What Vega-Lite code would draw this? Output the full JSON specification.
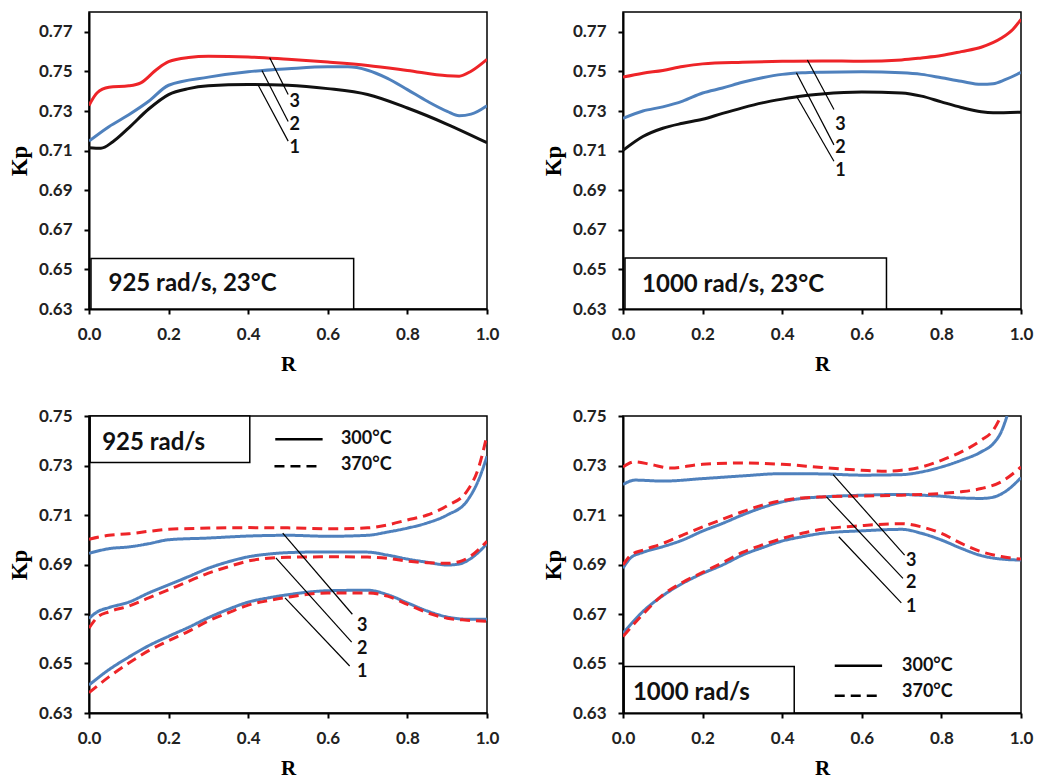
{
"$schema": "https://vega.github.io/schema/vega-lite/v6.json",
"padding": {"left": 7, "top": 11, "right": 5, "bottom": 5},
"background": "white",
"config": {
  "view": {"stroke": "black", "strokeWidth": 1.5},
  "axis": {"domainColor": "black", "domainWidth": 2, "tickColor": "black", "tickWidth": 2, "tickSize": 5, "grid": false, "labelFont": "Lato", "labelFontWeight": "bold", "labelFontSize": 17, "labelColor": "#222222", "titleFont": "Liberation Serif", "titleFontSize": 21, "titleFontWeight": "bold", "titleColor": "black"},
  "axisX": {"labelPadding": 12, "titlePadding": 11, "labelFlush": false},
  "axisY": {"labelPadding": 12, "titlePadding": 7, "titleFontSize": 23},
  "text": {"font": "Lato", "fontWeight": "bold", "color": "#111111"}
},
"resolve": {"scale": {"x": "independent", "y": "independent", "color": "independent", "strokeDash": "independent"}},
"columns": 2,
"spacing": {"row": 31, "column": 41},
"datasets": {
"cur": [
{"p":1,"s":"1","t":"23°C","R":0,"Kp":0.7115},{"p":1,"s":"1","t":"23°C","R":0.03,"Kp":0.7112},{"p":1,"s":"1","t":"23°C","R":0.06,"Kp":0.7145},{"p":1,"s":"1","t":"23°C","R":0.1,"Kp":0.7215},{"p":1,"s":"1","t":"23°C","R":0.15,"Kp":0.731},{"p":1,"s":"1","t":"23°C","R":0.2,"Kp":0.7383},{"p":1,"s":"1","t":"23°C","R":0.25,"Kp":0.7413},{"p":1,"s":"1","t":"23°C","R":0.3,"Kp":0.7427},{"p":1,"s":"1","t":"23°C","R":0.4,"Kp":0.7434},{"p":1,"s":"1","t":"23°C","R":0.5,"Kp":0.743},{"p":1,"s":"1","t":"23°C","R":0.6,"Kp":0.7413},{"p":1,"s":"1","t":"23°C","R":0.7,"Kp":0.7383},{"p":1,"s":"1","t":"23°C","R":0.8,"Kp":0.7315},{"p":1,"s":"1","t":"23°C","R":0.9,"Kp":0.7233},{"p":1,"s":"1","t":"23°C","R":1,"Kp":0.714},
{"p":1,"s":"2","t":"23°C","R":0,"Kp":0.7148},{"p":1,"s":"2","t":"23°C","R":0.05,"Kp":0.7221},{"p":1,"s":"2","t":"23°C","R":0.1,"Kp":0.7281},{"p":1,"s":"2","t":"23°C","R":0.15,"Kp":0.7349},{"p":1,"s":"2","t":"23°C","R":0.2,"Kp":0.743},{"p":1,"s":"2","t":"23°C","R":0.3,"Kp":0.7471},{"p":1,"s":"2","t":"23°C","R":0.4,"Kp":0.7498},{"p":1,"s":"2","t":"23°C","R":0.5,"Kp":0.7513},{"p":1,"s":"2","t":"23°C","R":0.6,"Kp":0.7523},{"p":1,"s":"2","t":"23°C","R":0.65,"Kp":0.7523},{"p":1,"s":"2","t":"23°C","R":0.7,"Kp":0.7506},{"p":1,"s":"2","t":"23°C","R":0.75,"Kp":0.7465},{"p":1,"s":"2","t":"23°C","R":0.8,"Kp":0.7408},{"p":1,"s":"2","t":"23°C","R":0.85,"Kp":0.7349},{"p":1,"s":"2","t":"23°C","R":0.9,"Kp":0.7298},{"p":1,"s":"2","t":"23°C","R":0.93,"Kp":0.7276},{"p":1,"s":"2","t":"23°C","R":0.96,"Kp":0.7284},{"p":1,"s":"2","t":"23°C","R":1,"Kp":0.7327},
{"p":1,"s":"3","t":"23°C","R":0,"Kp":0.7328},{"p":1,"s":"3","t":"23°C","R":0.02,"Kp":0.7391},{"p":1,"s":"3","t":"23°C","R":0.05,"Kp":0.742},{"p":1,"s":"3","t":"23°C","R":0.1,"Kp":0.7427},{"p":1,"s":"3","t":"23°C","R":0.13,"Kp":0.7442},{"p":1,"s":"3","t":"23°C","R":0.17,"Kp":0.751},{"p":1,"s":"3","t":"23°C","R":0.2,"Kp":0.7549},{"p":1,"s":"3","t":"23°C","R":0.25,"Kp":0.757},{"p":1,"s":"3","t":"23°C","R":0.3,"Kp":0.7576},{"p":1,"s":"3","t":"23°C","R":0.4,"Kp":0.7573},{"p":1,"s":"3","t":"23°C","R":0.5,"Kp":0.7561},{"p":1,"s":"3","t":"23°C","R":0.6,"Kp":0.7547},{"p":1,"s":"3","t":"23°C","R":0.7,"Kp":0.753},{"p":1,"s":"3","t":"23°C","R":0.8,"Kp":0.7505},{"p":1,"s":"3","t":"23°C","R":0.9,"Kp":0.7478},{"p":1,"s":"3","t":"23°C","R":0.93,"Kp":0.7476},{"p":1,"s":"3","t":"23°C","R":0.96,"Kp":0.7501},{"p":1,"s":"3","t":"23°C","R":1,"Kp":0.7561},

{"p":2,"s":"1","t":"23°C","R":0,"Kp":0.7101},{"p":2,"s":"1","t":"23°C","R":0.05,"Kp":0.7171},{"p":2,"s":"1","t":"23°C","R":0.1,"Kp":0.7213},{"p":2,"s":"1","t":"23°C","R":0.15,"Kp":0.7238},{"p":2,"s":"1","t":"23°C","R":0.2,"Kp":0.7258},{"p":2,"s":"1","t":"23°C","R":0.25,"Kp":0.7288},{"p":2,"s":"1","t":"23°C","R":0.3,"Kp":0.7316},{"p":2,"s":"1","t":"23°C","R":0.35,"Kp":0.7341},{"p":2,"s":"1","t":"23°C","R":0.4,"Kp":0.736},{"p":2,"s":"1","t":"23°C","R":0.45,"Kp":0.7376},{"p":2,"s":"1","t":"23°C","R":0.5,"Kp":0.7386},{"p":2,"s":"1","t":"23°C","R":0.6,"Kp":0.7396},{"p":2,"s":"1","t":"23°C","R":0.7,"Kp":0.7391},{"p":2,"s":"1","t":"23°C","R":0.75,"Kp":0.7375},{"p":2,"s":"1","t":"23°C","R":0.8,"Kp":0.7346},{"p":2,"s":"1","t":"23°C","R":0.85,"Kp":0.7318},{"p":2,"s":"1","t":"23°C","R":0.9,"Kp":0.7296},{"p":2,"s":"1","t":"23°C","R":0.93,"Kp":0.7291},{"p":2,"s":"1","t":"23°C","R":1,"Kp":0.7294},
{"p":2,"s":"2","t":"23°C","R":0,"Kp":0.7263},{"p":2,"s":"2","t":"23°C","R":0.05,"Kp":0.73},{"p":2,"s":"2","t":"23°C","R":0.1,"Kp":0.7321},{"p":2,"s":"2","t":"23°C","R":0.15,"Kp":0.735},{"p":2,"s":"2","t":"23°C","R":0.2,"Kp":0.7391},{"p":2,"s":"2","t":"23°C","R":0.25,"Kp":0.7416},{"p":2,"s":"2","t":"23°C","R":0.3,"Kp":0.7445},{"p":2,"s":"2","t":"23°C","R":0.35,"Kp":0.7468},{"p":2,"s":"2","t":"23°C","R":0.4,"Kp":0.7485},{"p":2,"s":"2","t":"23°C","R":0.45,"Kp":0.7493},{"p":2,"s":"2","t":"23°C","R":0.5,"Kp":0.7496},{"p":2,"s":"2","t":"23°C","R":0.6,"Kp":0.7498},{"p":2,"s":"2","t":"23°C","R":0.7,"Kp":0.7493},{"p":2,"s":"2","t":"23°C","R":0.75,"Kp":0.7485},{"p":2,"s":"2","t":"23°C","R":0.8,"Kp":0.7468},{"p":2,"s":"2","t":"23°C","R":0.85,"Kp":0.745},{"p":2,"s":"2","t":"23°C","R":0.9,"Kp":0.7435},{"p":2,"s":"2","t":"23°C","R":0.93,"Kp":0.7438},{"p":2,"s":"2","t":"23°C","R":0.96,"Kp":0.7458},{"p":2,"s":"2","t":"23°C","R":1,"Kp":0.7495},
{"p":2,"s":"3","t":"23°C","R":0,"Kp":0.7471},{"p":2,"s":"3","t":"23°C","R":0.05,"Kp":0.7491},{"p":2,"s":"3","t":"23°C","R":0.1,"Kp":0.7505},{"p":2,"s":"3","t":"23°C","R":0.15,"Kp":0.7525},{"p":2,"s":"3","t":"23°C","R":0.2,"Kp":0.7538},{"p":2,"s":"3","t":"23°C","R":0.3,"Kp":0.7546},{"p":2,"s":"3","t":"23°C","R":0.4,"Kp":0.7551},{"p":2,"s":"3","t":"23°C","R":0.5,"Kp":0.7553},{"p":2,"s":"3","t":"23°C","R":0.6,"Kp":0.7551},{"p":2,"s":"3","t":"23°C","R":0.7,"Kp":0.7558},{"p":2,"s":"3","t":"23°C","R":0.75,"Kp":0.7568},{"p":2,"s":"3","t":"23°C","R":0.8,"Kp":0.758},{"p":2,"s":"3","t":"23°C","R":0.85,"Kp":0.76},{"p":2,"s":"3","t":"23°C","R":0.9,"Kp":0.7622},{"p":2,"s":"3","t":"23°C","R":0.95,"Kp":0.7667},{"p":2,"s":"3","t":"23°C","R":0.98,"Kp":0.7713},{"p":2,"s":"3","t":"23°C","R":1,"Kp":0.7763},

{"p":3,"s":"1","t":"300°C","R":0,"Kp":0.6413},{"p":3,"s":"1","t":"300°C","R":0.05,"Kp":0.6475},{"p":3,"s":"1","t":"300°C","R":0.1,"Kp":0.6526},{"p":3,"s":"1","t":"300°C","R":0.15,"Kp":0.6572},{"p":3,"s":"1","t":"300°C","R":0.2,"Kp":0.661},{"p":3,"s":"1","t":"300°C","R":0.25,"Kp":0.6646},{"p":3,"s":"1","t":"300°C","R":0.3,"Kp":0.6685},{"p":3,"s":"1","t":"300°C","R":0.35,"Kp":0.6719},{"p":3,"s":"1","t":"300°C","R":0.4,"Kp":0.6748},{"p":3,"s":"1","t":"300°C","R":0.45,"Kp":0.6765},{"p":3,"s":"1","t":"300°C","R":0.5,"Kp":0.6778},{"p":3,"s":"1","t":"300°C","R":0.6,"Kp":0.6794},{"p":3,"s":"1","t":"300°C","R":0.7,"Kp":0.6796},{"p":3,"s":"1","t":"300°C","R":0.75,"Kp":0.6778},{"p":3,"s":"1","t":"300°C","R":0.8,"Kp":0.6745},{"p":3,"s":"1","t":"300°C","R":0.85,"Kp":0.6712},{"p":3,"s":"1","t":"300°C","R":0.9,"Kp":0.6688},{"p":3,"s":"1","t":"300°C","R":0.95,"Kp":0.6679},{"p":3,"s":"1","t":"300°C","R":1,"Kp":0.6679},
{"p":3,"s":"1","t":"370°C","R":0,"Kp":0.6382},{"p":3,"s":"1","t":"370°C","R":0.05,"Kp":0.6446},{"p":3,"s":"1","t":"370°C","R":0.1,"Kp":0.6502},{"p":3,"s":"1","t":"370°C","R":0.15,"Kp":0.6552},{"p":3,"s":"1","t":"370°C","R":0.2,"Kp":0.6592},{"p":3,"s":"1","t":"370°C","R":0.25,"Kp":0.663},{"p":3,"s":"1","t":"370°C","R":0.3,"Kp":0.6672},{"p":3,"s":"1","t":"370°C","R":0.35,"Kp":0.6705},{"p":3,"s":"1","t":"370°C","R":0.4,"Kp":0.6736},{"p":3,"s":"1","t":"370°C","R":0.45,"Kp":0.6754},{"p":3,"s":"1","t":"370°C","R":0.5,"Kp":0.6768},{"p":3,"s":"1","t":"370°C","R":0.6,"Kp":0.6785},{"p":3,"s":"1","t":"370°C","R":0.7,"Kp":0.6785},{"p":3,"s":"1","t":"370°C","R":0.75,"Kp":0.6772},{"p":3,"s":"1","t":"370°C","R":0.8,"Kp":0.6739},{"p":3,"s":"1","t":"370°C","R":0.85,"Kp":0.6705},{"p":3,"s":"1","t":"370°C","R":0.9,"Kp":0.6683},{"p":3,"s":"1","t":"370°C","R":0.95,"Kp":0.6675},{"p":3,"s":"1","t":"370°C","R":1,"Kp":0.667},
{"p":3,"s":"2","t":"300°C","R":0,"Kp":0.6682},{"p":3,"s":"2","t":"300°C","R":0.02,"Kp":0.6708},{"p":3,"s":"2","t":"300°C","R":0.05,"Kp":0.6726},{"p":3,"s":"2","t":"300°C","R":0.1,"Kp":0.6748},{"p":3,"s":"2","t":"300°C","R":0.15,"Kp":0.6785},{"p":3,"s":"2","t":"300°C","R":0.2,"Kp":0.6818},{"p":3,"s":"2","t":"300°C","R":0.25,"Kp":0.6851},{"p":3,"s":"2","t":"300°C","R":0.3,"Kp":0.6885},{"p":3,"s":"2","t":"300°C","R":0.35,"Kp":0.6911},{"p":3,"s":"2","t":"300°C","R":0.4,"Kp":0.6931},{"p":3,"s":"2","t":"300°C","R":0.45,"Kp":0.6942},{"p":3,"s":"2","t":"300°C","R":0.5,"Kp":0.6948},{"p":3,"s":"2","t":"300°C","R":0.6,"Kp":0.6951},{"p":3,"s":"2","t":"300°C","R":0.7,"Kp":0.695},{"p":3,"s":"2","t":"300°C","R":0.75,"Kp":0.6938},{"p":3,"s":"2","t":"300°C","R":0.8,"Kp":0.6922},{"p":3,"s":"2","t":"300°C","R":0.85,"Kp":0.6909},{"p":3,"s":"2","t":"300°C","R":0.9,"Kp":0.6898},{"p":3,"s":"2","t":"300°C","R":0.93,"Kp":0.6902},{"p":3,"s":"2","t":"300°C","R":0.96,"Kp":0.6925},{"p":3,"s":"2","t":"300°C","R":1,"Kp":0.6984},
{"p":3,"s":"2","t":"370°C","R":0,"Kp":0.6643},{"p":3,"s":"2","t":"370°C","R":0.02,"Kp":0.6685},{"p":3,"s":"2","t":"370°C","R":0.05,"Kp":0.6709},{"p":3,"s":"2","t":"370°C","R":0.1,"Kp":0.6732},{"p":3,"s":"2","t":"370°C","R":0.15,"Kp":0.6765},{"p":3,"s":"2","t":"370°C","R":0.2,"Kp":0.6798},{"p":3,"s":"2","t":"370°C","R":0.25,"Kp":0.6832},{"p":3,"s":"2","t":"370°C","R":0.3,"Kp":0.6865},{"p":3,"s":"2","t":"370°C","R":0.35,"Kp":0.6891},{"p":3,"s":"2","t":"370°C","R":0.4,"Kp":0.6914},{"p":3,"s":"2","t":"370°C","R":0.45,"Kp":0.6925},{"p":3,"s":"2","t":"370°C","R":0.5,"Kp":0.6929},{"p":3,"s":"2","t":"370°C","R":0.6,"Kp":0.6931},{"p":3,"s":"2","t":"370°C","R":0.7,"Kp":0.693},{"p":3,"s":"2","t":"370°C","R":0.75,"Kp":0.6925},{"p":3,"s":"2","t":"370°C","R":0.8,"Kp":0.6914},{"p":3,"s":"2","t":"370°C","R":0.85,"Kp":0.6907},{"p":3,"s":"2","t":"370°C","R":0.9,"Kp":0.6905},{"p":3,"s":"2","t":"370°C","R":0.93,"Kp":0.6911},{"p":3,"s":"2","t":"370°C","R":0.96,"Kp":0.6935},{"p":3,"s":"2","t":"370°C","R":1,"Kp":0.6994},
{"p":3,"s":"3","t":"300°C","R":0,"Kp":0.6945},{"p":3,"s":"3","t":"300°C","R":0.05,"Kp":0.6964},{"p":3,"s":"3","t":"300°C","R":0.1,"Kp":0.6971},{"p":3,"s":"3","t":"300°C","R":0.15,"Kp":0.6984},{"p":3,"s":"3","t":"300°C","R":0.2,"Kp":0.7},{"p":3,"s":"3","t":"300°C","R":0.3,"Kp":0.7007},{"p":3,"s":"3","t":"300°C","R":0.4,"Kp":0.7015},{"p":3,"s":"3","t":"300°C","R":0.5,"Kp":0.7018},{"p":3,"s":"3","t":"300°C","R":0.6,"Kp":0.7014},{"p":3,"s":"3","t":"300°C","R":0.7,"Kp":0.7018},{"p":3,"s":"3","t":"300°C","R":0.75,"Kp":0.7031},{"p":3,"s":"3","t":"300°C","R":0.8,"Kp":0.7047},{"p":3,"s":"3","t":"300°C","R":0.85,"Kp":0.7068},{"p":3,"s":"3","t":"300°C","R":0.9,"Kp":0.71},{"p":3,"s":"3","t":"300°C","R":0.95,"Kp":0.7157},{"p":3,"s":"3","t":"300°C","R":0.98,"Kp":0.7246},{"p":3,"s":"3","t":"300°C","R":1,"Kp":0.7337},
{"p":3,"s":"3","t":"370°C","R":0,"Kp":0.7002},{"p":3,"s":"3","t":"370°C","R":0.05,"Kp":0.7018},{"p":3,"s":"3","t":"370°C","R":0.1,"Kp":0.7024},{"p":3,"s":"3","t":"370°C","R":0.15,"Kp":0.7034},{"p":3,"s":"3","t":"370°C","R":0.2,"Kp":0.7042},{"p":3,"s":"3","t":"370°C","R":0.3,"Kp":0.7047},{"p":3,"s":"3","t":"370°C","R":0.4,"Kp":0.7049},{"p":3,"s":"3","t":"370°C","R":0.5,"Kp":0.7048},{"p":3,"s":"3","t":"370°C","R":0.6,"Kp":0.7044},{"p":3,"s":"3","t":"370°C","R":0.7,"Kp":0.7048},{"p":3,"s":"3","t":"370°C","R":0.75,"Kp":0.706},{"p":3,"s":"3","t":"370°C","R":0.8,"Kp":0.708},{"p":3,"s":"3","t":"370°C","R":0.85,"Kp":0.71},{"p":3,"s":"3","t":"370°C","R":0.9,"Kp":0.7137},{"p":3,"s":"3","t":"370°C","R":0.95,"Kp":0.7197},{"p":3,"s":"3","t":"370°C","R":0.98,"Kp":0.7297},{"p":3,"s":"3","t":"370°C","R":1,"Kp":0.7423},

{"p":4,"s":"1","t":"300°C","R":0,"Kp":0.6622},{"p":4,"s":"1","t":"300°C","R":0.05,"Kp":0.671},{"p":4,"s":"1","t":"300°C","R":0.1,"Kp":0.6774},{"p":4,"s":"1","t":"300°C","R":0.15,"Kp":0.6824},{"p":4,"s":"1","t":"300°C","R":0.2,"Kp":0.6864},{"p":4,"s":"1","t":"300°C","R":0.25,"Kp":0.6898},{"p":4,"s":"1","t":"300°C","R":0.3,"Kp":0.6938},{"p":4,"s":"1","t":"300°C","R":0.35,"Kp":0.6968},{"p":4,"s":"1","t":"300°C","R":0.4,"Kp":0.6995},{"p":4,"s":"1","t":"300°C","R":0.45,"Kp":0.7012},{"p":4,"s":"1","t":"300°C","R":0.5,"Kp":0.7026},{"p":4,"s":"1","t":"300°C","R":0.6,"Kp":0.7036},{"p":4,"s":"1","t":"300°C","R":0.7,"Kp":0.7042},{"p":4,"s":"1","t":"300°C","R":0.75,"Kp":0.7026},{"p":4,"s":"1","t":"300°C","R":0.8,"Kp":0.6999},{"p":4,"s":"1","t":"300°C","R":0.85,"Kp":0.6965},{"p":4,"s":"1","t":"300°C","R":0.9,"Kp":0.6936},{"p":4,"s":"1","t":"300°C","R":0.95,"Kp":0.6922},{"p":4,"s":"1","t":"300°C","R":1,"Kp":0.6918},
{"p":4,"s":"1","t":"370°C","R":0,"Kp":0.6609},{"p":4,"s":"1","t":"370°C","R":0.05,"Kp":0.6699},{"p":4,"s":"1","t":"370°C","R":0.1,"Kp":0.6777},{"p":4,"s":"1","t":"370°C","R":0.15,"Kp":0.6828},{"p":4,"s":"1","t":"370°C","R":0.2,"Kp":0.6868},{"p":4,"s":"1","t":"370°C","R":0.25,"Kp":0.6907},{"p":4,"s":"1","t":"370°C","R":0.3,"Kp":0.6949},{"p":4,"s":"1","t":"370°C","R":0.35,"Kp":0.6979},{"p":4,"s":"1","t":"370°C","R":0.4,"Kp":0.7005},{"p":4,"s":"1","t":"370°C","R":0.45,"Kp":0.7026},{"p":4,"s":"1","t":"370°C","R":0.5,"Kp":0.7042},{"p":4,"s":"1","t":"370°C","R":0.6,"Kp":0.7057},{"p":4,"s":"1","t":"370°C","R":0.7,"Kp":0.7065},{"p":4,"s":"1","t":"370°C","R":0.75,"Kp":0.7052},{"p":4,"s":"1","t":"370°C","R":0.8,"Kp":0.7026},{"p":4,"s":"1","t":"370°C","R":0.85,"Kp":0.6985},{"p":4,"s":"1","t":"370°C","R":0.9,"Kp":0.6952},{"p":4,"s":"1","t":"370°C","R":0.95,"Kp":0.6932},{"p":4,"s":"1","t":"370°C","R":1,"Kp":0.6922},
{"p":4,"s":"2","t":"300°C","R":0,"Kp":0.6885},{"p":4,"s":"2","t":"300°C","R":0.02,"Kp":0.6928},{"p":4,"s":"2","t":"300°C","R":0.05,"Kp":0.6949},{"p":4,"s":"2","t":"300°C","R":0.1,"Kp":0.6972},{"p":4,"s":"2","t":"300°C","R":0.15,"Kp":0.6999},{"p":4,"s":"2","t":"300°C","R":0.2,"Kp":0.7035},{"p":4,"s":"2","t":"300°C","R":0.25,"Kp":0.7066},{"p":4,"s":"2","t":"300°C","R":0.3,"Kp":0.71},{"p":4,"s":"2","t":"300°C","R":0.35,"Kp":0.713},{"p":4,"s":"2","t":"300°C","R":0.4,"Kp":0.7153},{"p":4,"s":"2","t":"300°C","R":0.45,"Kp":0.7167},{"p":4,"s":"2","t":"300°C","R":0.5,"Kp":0.7173},{"p":4,"s":"2","t":"300°C","R":0.6,"Kp":0.718},{"p":4,"s":"2","t":"300°C","R":0.7,"Kp":0.7183},{"p":4,"s":"2","t":"300°C","R":0.75,"Kp":0.718},{"p":4,"s":"2","t":"300°C","R":0.8,"Kp":0.7176},{"p":4,"s":"2","t":"300°C","R":0.85,"Kp":0.7169},{"p":4,"s":"2","t":"300°C","R":0.9,"Kp":0.7167},{"p":4,"s":"2","t":"300°C","R":0.93,"Kp":0.7172},{"p":4,"s":"2","t":"300°C","R":0.96,"Kp":0.7194},{"p":4,"s":"2","t":"300°C","R":1,"Kp":0.7251},
{"p":4,"s":"2","t":"370°C","R":0,"Kp":0.6898},{"p":4,"s":"2","t":"370°C","R":0.02,"Kp":0.6938},{"p":4,"s":"2","t":"370°C","R":0.05,"Kp":0.6958},{"p":4,"s":"2","t":"370°C","R":0.1,"Kp":0.6985},{"p":4,"s":"2","t":"370°C","R":0.15,"Kp":0.7019},{"p":4,"s":"2","t":"370°C","R":0.2,"Kp":0.7052},{"p":4,"s":"2","t":"370°C","R":0.25,"Kp":0.7083},{"p":4,"s":"2","t":"370°C","R":0.3,"Kp":0.7113},{"p":4,"s":"2","t":"370°C","R":0.35,"Kp":0.714},{"p":4,"s":"2","t":"370°C","R":0.4,"Kp":0.7158},{"p":4,"s":"2","t":"370°C","R":0.45,"Kp":0.7169},{"p":4,"s":"2","t":"370°C","R":0.5,"Kp":0.7173},{"p":4,"s":"2","t":"370°C","R":0.6,"Kp":0.7177},{"p":4,"s":"2","t":"370°C","R":0.7,"Kp":0.718},{"p":4,"s":"2","t":"370°C","R":0.75,"Kp":0.7183},{"p":4,"s":"2","t":"370°C","R":0.8,"Kp":0.7187},{"p":4,"s":"2","t":"370°C","R":0.85,"Kp":0.7194},{"p":4,"s":"2","t":"370°C","R":0.9,"Kp":0.7207},{"p":4,"s":"2","t":"370°C","R":0.95,"Kp":0.7234},{"p":4,"s":"2","t":"370°C","R":1,"Kp":0.7294},
{"p":4,"s":"3","t":"300°C","R":0,"Kp":0.7223},{"p":4,"s":"3","t":"300°C","R":0.03,"Kp":0.7241},{"p":4,"s":"3","t":"300°C","R":0.1,"Kp":0.7237},{"p":4,"s":"3","t":"300°C","R":0.2,"Kp":0.7247},{"p":4,"s":"3","t":"300°C","R":0.3,"Kp":0.7258},{"p":4,"s":"3","t":"300°C","R":0.4,"Kp":0.7267},{"p":4,"s":"3","t":"300°C","R":0.5,"Kp":0.7266},{"p":4,"s":"3","t":"300°C","R":0.6,"Kp":0.7261},{"p":4,"s":"3","t":"300°C","R":0.7,"Kp":0.7263},{"p":4,"s":"3","t":"300°C","R":0.75,"Kp":0.7274},{"p":4,"s":"3","t":"300°C","R":0.8,"Kp":0.7294},{"p":4,"s":"3","t":"300°C","R":0.85,"Kp":0.7321},{"p":4,"s":"3","t":"300°C","R":0.9,"Kp":0.7355},{"p":4,"s":"3","t":"300°C","R":0.93,"Kp":0.7388},{"p":4,"s":"3","t":"300°C","R":0.95,"Kp":0.7435},{"p":4,"s":"3","t":"300°C","R":0.965,"Kp":0.75},
{"p":4,"s":"3","t":"370°C","R":0,"Kp":0.7294},{"p":4,"s":"3","t":"370°C","R":0.03,"Kp":0.7315},{"p":4,"s":"3","t":"370°C","R":0.07,"Kp":0.7304},{"p":4,"s":"3","t":"370°C","R":0.12,"Kp":0.729},{"p":4,"s":"3","t":"370°C","R":0.2,"Kp":0.7305},{"p":4,"s":"3","t":"370°C","R":0.3,"Kp":0.731},{"p":4,"s":"3","t":"370°C","R":0.4,"Kp":0.7305},{"p":4,"s":"3","t":"370°C","R":0.5,"Kp":0.7292},{"p":4,"s":"3","t":"370°C","R":0.6,"Kp":0.7281},{"p":4,"s":"3","t":"370°C","R":0.65,"Kp":0.7277},{"p":4,"s":"3","t":"370°C","R":0.7,"Kp":0.7281},{"p":4,"s":"3","t":"370°C","R":0.75,"Kp":0.7294},{"p":4,"s":"3","t":"370°C","R":0.8,"Kp":0.7321},{"p":4,"s":"3","t":"370°C","R":0.85,"Kp":0.7355},{"p":4,"s":"3","t":"370°C","R":0.9,"Kp":0.7402},{"p":4,"s":"3","t":"370°C","R":0.93,"Kp":0.7442},{"p":4,"s":"3","t":"370°C","R":0.95,"Kp":0.75}
],
"ann": [
{"p":1,"k":"box","R":0.005,"Kp":0.63,"R2":0.665,"Kp2":0.6555},
{"p":1,"k":"boxtext","R":0.049,"Kp":0.6424,"label":"925 rad/s, 23°C"},
{"p":1,"k":"lead","R":0.454,"Kp":0.7569,"R2":0.5004,"Kp2":0.7383},
{"p":1,"k":"lead","R":0.4346,"Kp":0.7505,"R2":0.5004,"Kp2":0.7247},
{"p":1,"k":"lead","R":0.4253,"Kp":0.743,"R2":0.5004,"Kp2":0.7148},
{"p":1,"k":"num","R":0.517,"Kp":0.7345,"label":"3"},
{"p":1,"k":"num","R":0.517,"Kp":0.723,"label":"2"},
{"p":1,"k":"num","R":0.517,"Kp":0.7111,"label":"1"},
{"p":2,"k":"box","R":0.005,"Kp":0.63,"R2":0.662,"Kp2":0.6557},
{"p":2,"k":"boxtext","R":0.048,"Kp":0.642,"label":"1000 rad/s, 23°C"},
{"p":2,"k":"lead","R":0.4633,"Kp":0.7558,"R2":0.53,"Kp2":0.7308},
{"p":2,"k":"lead","R":0.4357,"Kp":0.7493,"R2":0.53,"Kp2":0.7129},
{"p":2,"k":"lead","R":0.4357,"Kp":0.7376,"R2":0.53,"Kp2":0.7046},
{"p":2,"k":"num","R":0.5467,"Kp":0.7229,"label":"3"},
{"p":2,"k":"num","R":0.5467,"Kp":0.7113,"label":"2"},
{"p":2,"k":"num","R":0.5467,"Kp":0.6996,"label":"1"},
{"p":3,"k":"box","R":0.003,"Kp":0.7312,"R2":0.404,"Kp2":0.75},
{"p":3,"k":"boxtext","R":0.033,"Kp":0.7392,"label":"925 rad/s"},
{"p":3,"k":"lead","R":0.4868,"Kp":0.7027,"R2":0.6617,"Kp2":0.6699},
{"p":3,"k":"lead","R":0.4695,"Kp":0.6927,"R2":0.66,"Kp2":0.6586},
{"p":3,"k":"lead","R":0.4926,"Kp":0.6765,"R2":0.655,"Kp2":0.649},
{"p":3,"k":"num","R":0.6865,"Kp":0.6652,"label":"3"},
{"p":3,"k":"num","R":0.6865,"Kp":0.6559,"label":"2"},
{"p":3,"k":"num","R":0.6865,"Kp":0.6466,"label":"1"},
{"p":3,"k":"leg","R":0.468,"Kp":0.7406,"R2":0.587,"t":"300°C"},
{"p":3,"k":"leg","R":0.466,"Kp":0.7297,"R2":0.578,"t":"370°C"},
{"p":3,"k":"legtext","R":0.633,"Kp":0.7406,"label":"300°C"},
{"p":3,"k":"legtext","R":0.633,"Kp":0.7303,"label":"370°C"},
{"p":4,"k":"box","R":0.003,"Kp":0.63,"R2":0.4302,"Kp2":0.6488},
{"p":4,"k":"boxtext","R":0.025,"Kp":0.6381,"label":"1000 rad/s"},
{"p":4,"k":"lead","R":0.528,"Kp":0.7263,"R2":0.7076,"Kp2":0.6938},
{"p":4,"k":"lead","R":0.5113,"Kp":0.7173,"R2":0.7034,"Kp2":0.6844},
{"p":4,"k":"lead","R":0.5422,"Kp":0.7012,"R2":0.6993,"Kp2":0.6745},
{"p":4,"k":"num","R":0.7243,"Kp":0.6915,"label":"3"},
{"p":4,"k":"num","R":0.7243,"Kp":0.6824,"label":"2"},
{"p":4,"k":"num","R":0.7243,"Kp":0.673,"label":"1"},
{"p":4,"k":"leg","R":0.532,"Kp":0.6491,"R2":0.651,"t":"300°C"},
{"p":4,"k":"leg","R":0.532,"Kp":0.637,"R2":0.649,"t":"370°C"},
{"p":4,"k":"legtext","R":0.701,"Kp":0.6488,"label":"300°C"},
{"p":4,"k":"legtext","R":0.701,"Kp":0.6383,"label":"370°C"}
]
},
"concat": [
{
 "width": 398, "height": 297,
 "encoding": {
  "x": {"field": "R", "type": "quantitative", "scale": {"domain": [0, 1], "nice": false, "zero": false}, "axis": {"title": "R", "values": [0, 0.2, 0.4, 0.6, 0.8, 1], "format": ".1f"}},
  "y": {"field": "Kp", "type": "quantitative", "scale": {"domain": [0.63, 0.78], "nice": false, "zero": false}, "axis": {"title": "Kp", "values": [0.63, 0.65, 0.67, 0.69, 0.71, 0.73, 0.75, 0.77], "format": ".2f"}}
 },
 "layer": [
  {"data": {"name": "ann"}, "transform": [{"filter": "datum.p == 1 && datum.k == 'box'"}], "mark": {"type": "rect", "fill": "white", "stroke": "black", "strokeWidth": 1.5}, "encoding": {"x2": {"field": "R2"}, "y2": {"field": "Kp2"}}},
  {"data": {"name": "cur"}, "transform": [{"filter": "datum.p == 1"}], "mark": {"type": "line", "interpolate": "monotone", "strokeWidth": 3, "clip": true}, "encoding": {"color": {"field": "s", "type": "nominal", "scale": {"domain": ["1", "2", "3"], "range": ["#111111", "#4f81bd", "#ee2428"]}, "legend": null}}},
  {"data": {"name": "ann"}, "transform": [{"filter": "datum.p == 1 && datum.k == 'lead'"}], "mark": {"type": "rule", "color": "black", "strokeWidth": 1.2}, "encoding": {"x2": {"field": "R2"}, "y2": {"field": "Kp2"}}},
  {"data": {"name": "ann"}, "transform": [{"filter": "datum.p == 1 && datum.k == 'num'"}], "mark": {"type": "text", "fontSize": 18, "align": "center", "baseline": "middle"}, "encoding": {"text": {"field": "label"}}},
  {"data": {"name": "ann"}, "transform": [{"filter": "datum.p == 1 && datum.k == 'boxtext'"}], "mark": {"type": "text", "fontSize": 24, "align": "left", "baseline": "middle"}, "encoding": {"text": {"field": "label"}}}
 ]
},
{
 "width": 398, "height": 297,
 "encoding": {
  "x": {"field": "R", "type": "quantitative", "scale": {"domain": [0, 1], "nice": false, "zero": false}, "axis": {"title": "R", "values": [0, 0.2, 0.4, 0.6, 0.8, 1], "format": ".1f"}},
  "y": {"field": "Kp", "type": "quantitative", "scale": {"domain": [0.63, 0.78], "nice": false, "zero": false}, "axis": {"title": "Kp", "values": [0.63, 0.65, 0.67, 0.69, 0.71, 0.73, 0.75, 0.77], "format": ".2f"}}
 },
 "layer": [
  {"data": {"name": "ann"}, "transform": [{"filter": "datum.p == 2 && datum.k == 'box'"}], "mark": {"type": "rect", "fill": "white", "stroke": "black", "strokeWidth": 1.5}, "encoding": {"x2": {"field": "R2"}, "y2": {"field": "Kp2"}}},
  {"data": {"name": "cur"}, "transform": [{"filter": "datum.p == 2"}], "mark": {"type": "line", "interpolate": "monotone", "strokeWidth": 3, "clip": true}, "encoding": {"color": {"field": "s", "type": "nominal", "scale": {"domain": ["1", "2", "3"], "range": ["#111111", "#4f81bd", "#ee2428"]}, "legend": null}}},
  {"data": {"name": "ann"}, "transform": [{"filter": "datum.p == 2 && datum.k == 'lead'"}], "mark": {"type": "rule", "color": "black", "strokeWidth": 1.2}, "encoding": {"x2": {"field": "R2"}, "y2": {"field": "Kp2"}}},
  {"data": {"name": "ann"}, "transform": [{"filter": "datum.p == 2 && datum.k == 'num'"}], "mark": {"type": "text", "fontSize": 18, "align": "center", "baseline": "middle"}, "encoding": {"text": {"field": "label"}}},
  {"data": {"name": "ann"}, "transform": [{"filter": "datum.p == 2 && datum.k == 'boxtext'"}], "mark": {"type": "text", "fontSize": 24, "align": "left", "baseline": "middle"}, "encoding": {"text": {"field": "label"}}}
 ]
},
{
 "width": 398, "height": 297,
 "encoding": {
  "x": {"field": "R", "type": "quantitative", "scale": {"domain": [0, 1], "nice": false, "zero": false}, "axis": {"title": "R", "values": [0, 0.2, 0.4, 0.6, 0.8, 1], "format": ".1f"}},
  "y": {"field": "Kp", "type": "quantitative", "scale": {"domain": [0.63, 0.75], "nice": false, "zero": false}, "axis": {"title": "Kp", "values": [0.63, 0.65, 0.67, 0.69, 0.71, 0.73, 0.75], "format": ".2f"}}
 },
 "layer": [
  {"data": {"name": "ann"}, "transform": [{"filter": "datum.p == 3 && datum.k == 'box'"}], "mark": {"type": "rect", "fill": "white", "stroke": "black", "strokeWidth": 1.5}, "encoding": {"x2": {"field": "R2"}, "y2": {"field": "Kp2"}}},
  {"data": {"name": "cur"}, "transform": [{"filter": "datum.p == 3"}], "mark": {"type": "line", "interpolate": "monotone", "strokeWidth": 3, "clip": true}, "encoding": {"color": {"field": "t", "type": "nominal", "scale": {"domain": ["300°C", "370°C"], "range": ["#4f81bd", "#ee2428"]}, "legend": null}, "strokeDash": {"field": "t", "type": "nominal", "scale": {"domain": ["300°C", "370°C"], "range": [[1, 0], [10, 6]]}, "legend": null}, "detail": {"field": "s"}}},
  {"data": {"name": "ann"}, "transform": [{"filter": "datum.p == 3 && datum.k == 'leg'"}], "mark": {"type": "rule", "color": "black", "strokeWidth": 2.5}, "encoding": {"x2": {"field": "R2"}, "strokeDash": {"field": "t", "type": "nominal", "scale": {"domain": ["300°C", "370°C"], "range": [[1, 0], [10, 6]]}, "legend": null}}},
  {"data": {"name": "ann"}, "transform": [{"filter": "datum.p == 3 && datum.k == 'lead'"}], "mark": {"type": "rule", "color": "black", "strokeWidth": 1.2}, "encoding": {"x2": {"field": "R2"}, "y2": {"field": "Kp2"}}},
  {"data": {"name": "ann"}, "transform": [{"filter": "datum.p == 3 && datum.k == 'num'"}], "mark": {"type": "text", "fontSize": 18, "align": "center", "baseline": "middle"}, "encoding": {"text": {"field": "label"}}},
  {"data": {"name": "ann"}, "transform": [{"filter": "datum.p == 3 && datum.k == 'legtext'"}], "mark": {"type": "text", "fontSize": 18, "align": "left", "baseline": "middle"}, "encoding": {"text": {"field": "label"}}},
  {"data": {"name": "ann"}, "transform": [{"filter": "datum.p == 3 && datum.k == 'boxtext'"}], "mark": {"type": "text", "fontSize": 24, "align": "left", "baseline": "middle"}, "encoding": {"text": {"field": "label"}}}
 ]
},
{
 "width": 398, "height": 297,
 "encoding": {
  "x": {"field": "R", "type": "quantitative", "scale": {"domain": [0, 1], "nice": false, "zero": false}, "axis": {"title": "R", "values": [0, 0.2, 0.4, 0.6, 0.8, 1], "format": ".1f"}},
  "y": {"field": "Kp", "type": "quantitative", "scale": {"domain": [0.63, 0.75], "nice": false, "zero": false}, "axis": {"title": "Kp", "values": [0.63, 0.65, 0.67, 0.69, 0.71, 0.73, 0.75], "format": ".2f"}}
 },
 "layer": [
  {"data": {"name": "ann"}, "transform": [{"filter": "datum.p == 4 && datum.k == 'box'"}], "mark": {"type": "rect", "fill": "white", "stroke": "black", "strokeWidth": 1.5}, "encoding": {"x2": {"field": "R2"}, "y2": {"field": "Kp2"}}},
  {"data": {"name": "cur"}, "transform": [{"filter": "datum.p == 4"}], "mark": {"type": "line", "interpolate": "monotone", "strokeWidth": 3, "clip": true}, "encoding": {"color": {"field": "t", "type": "nominal", "scale": {"domain": ["300°C", "370°C"], "range": ["#4f81bd", "#ee2428"]}, "legend": null}, "strokeDash": {"field": "t", "type": "nominal", "scale": {"domain": ["300°C", "370°C"], "range": [[1, 0], [10, 6]]}, "legend": null}, "detail": {"field": "s"}}},
  {"data": {"name": "ann"}, "transform": [{"filter": "datum.p == 4 && datum.k == 'leg'"}], "mark": {"type": "rule", "color": "black", "strokeWidth": 2.5}, "encoding": {"x2": {"field": "R2"}, "strokeDash": {"field": "t", "type": "nominal", "scale": {"domain": ["300°C", "370°C"], "range": [[1, 0], [10, 6]]}, "legend": null}}},
  {"data": {"name": "ann"}, "transform": [{"filter": "datum.p == 4 && datum.k == 'lead'"}], "mark": {"type": "rule", "color": "black", "strokeWidth": 1.2}, "encoding": {"x2": {"field": "R2"}, "y2": {"field": "Kp2"}}},
  {"data": {"name": "ann"}, "transform": [{"filter": "datum.p == 4 && datum.k == 'num'"}], "mark": {"type": "text", "fontSize": 18, "align": "center", "baseline": "middle"}, "encoding": {"text": {"field": "label"}}},
  {"data": {"name": "ann"}, "transform": [{"filter": "datum.p == 4 && datum.k == 'legtext'"}], "mark": {"type": "text", "fontSize": 18, "align": "left", "baseline": "middle"}, "encoding": {"text": {"field": "label"}}},
  {"data": {"name": "ann"}, "transform": [{"filter": "datum.p == 4 && datum.k == 'boxtext'"}], "mark": {"type": "text", "fontSize": 24, "align": "left", "baseline": "middle"}, "encoding": {"text": {"field": "label"}}}
 ]
}
]
}
